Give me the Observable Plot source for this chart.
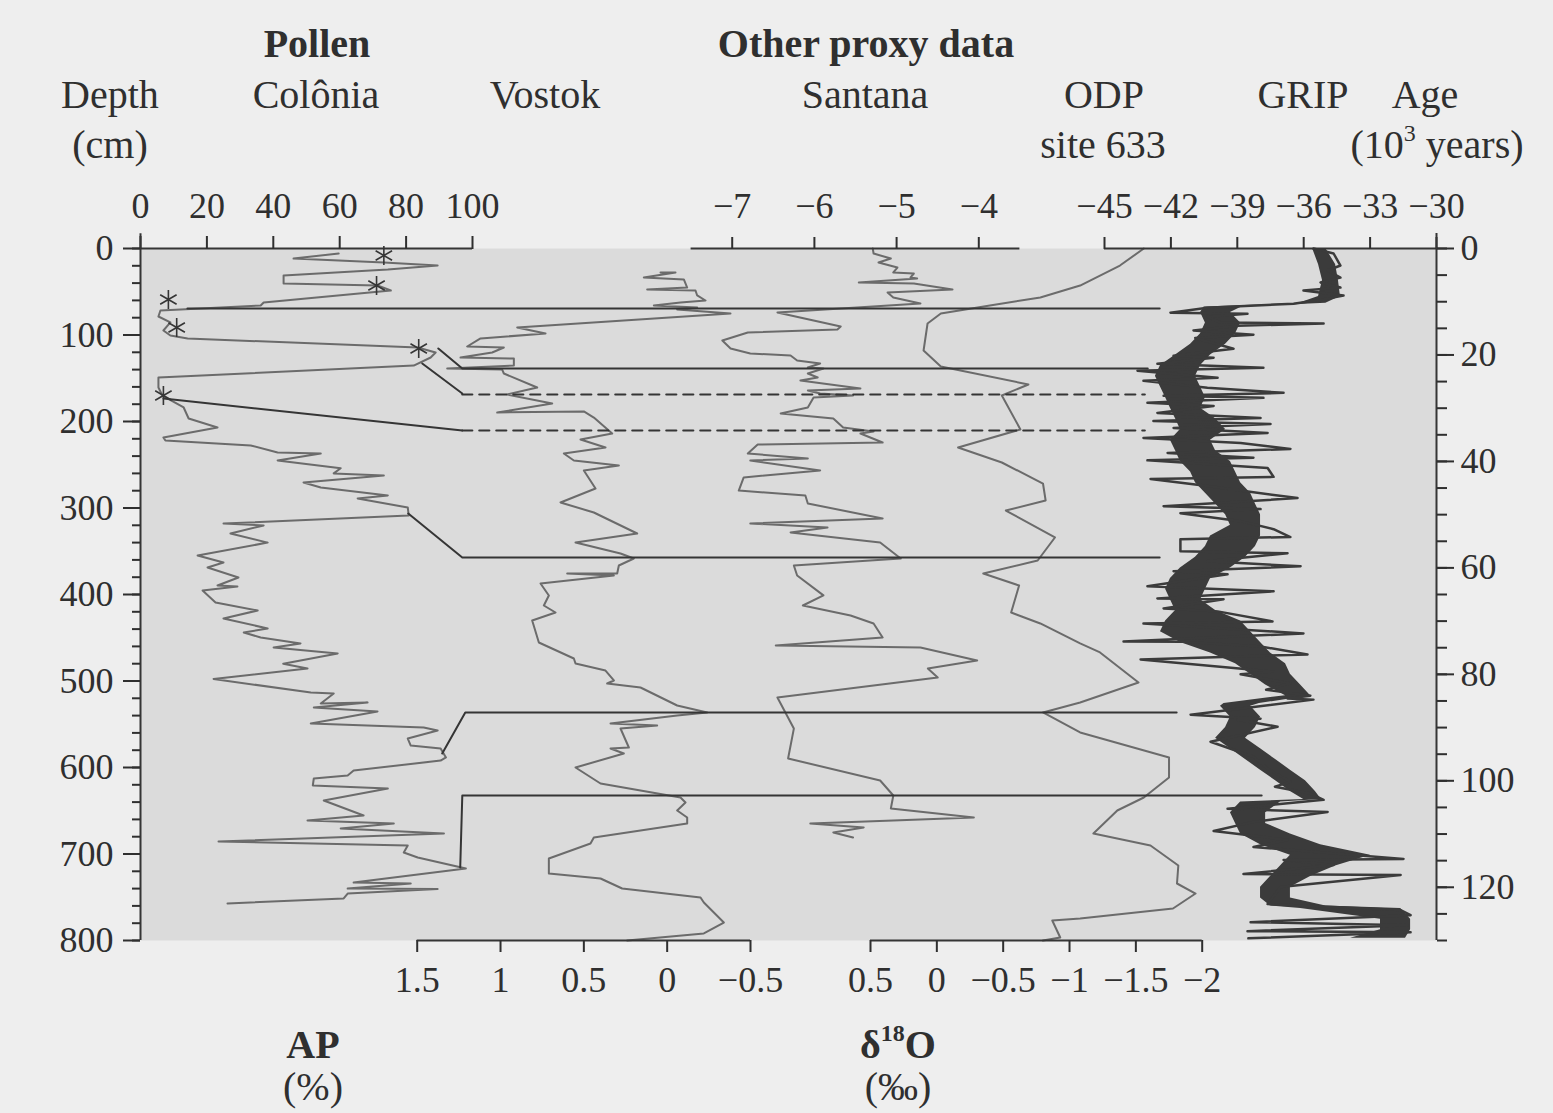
<!DOCTYPE html>
<html><head><meta charset="utf-8">
<script src="https://cdn.jsdelivr.net/npm/d3@7"></script>
<script src="https://cdn.jsdelivr.net/npm/@observablehq/plot@0.6"></script>
<style>
body{margin:0;background:#eeeeee;}
#chart{position:relative;width:1553px;height:1113px;font-family:"Liberation Serif",serif;color:#2f2f2f;}
#chart svg{position:absolute;left:0;top:0;}
.lbl{position:absolute;white-space:nowrap;transform:translateX(-50%);line-height:1;font-size:40px;}
.b{font-weight:bold;}
.lbl sup{font-size:60%;line-height:0;vertical-align:0.72em;}
</style></head><body><div id="chart"></div>
<script>
// ---------------- DATA ----------------
// Pollen, Colônia: [depth cm, arboreal pollen %]
const pollenAP = [[5.8,59.7],[11.6,46.1],[16.2,73.3],[19.7,89.5],[24.3,74.5],[31.2,43.1],[40.5,43.1],[42.8,71.4],[48.6,75.4],[62.4,37.1],[65.9,36.2],[71.7,6.0],[78.6,5.4],[85.5,9.0],[94.8,6.9],[100.6,9.0],[104,14.2],[114.5,83.5],[120.2,88.9],[126,87.4],[135.3,82.3],[149.1,5.4],[160.7,5.4],[170,6.6],[173.4,8.1],[183.8,13],[196.5,14.5],[207,23.2],[218.5,6.9],[222,7.5],[227.7,33.2],[235.8,41.3],[237,54.3],[245,41.3],[254,60.3],[260,58.2],[262.4,73.3],[270.5,49.1],[276.3,54.3],[285.5,74.5],[289,65.4],[299.4,80.5],[308.7,80.8],[318,25],[320.2,37.1],[329.5,27.1],[340,38.3],[355,17.2],[363,25],[368.8,20.2],[380.3,29.5],[389.6,23.2],[390.8,29.2],[395.4,18.7],[409.2,22.6],[418.5,35.3],[427.7,25],[439.3,38.3],[444,31.1],[449.7,36.2],[456.6,48.2],[461.3,40.1],[468.2,59.4],[476.3,48.2],[480,43],[485.5,50.3],[497.7,22],[513.3,51.3],[514.5,58.2],[526,54.3],[524.9,68.4],[530.6,52.2],[535.3,71.4],[549.1,51.3],[553.8,85.3],[557.2,89.5],[566.5,80.5],[574.6,81.4],[578,90.4],[588.4,92],[592,90.4],[603.5,64.2],[609.2,62.4],[612.7,52.2],[620.8,51.9],[624.3,74.5],[638.2,55.2],[655.5,67.2],[661.3,50.3],[664.7,76.3],[670.5,60.3],[676.3,91.4],[685.5,23.5],[690.2,80.5],[698.3,79.3],[704,83.5],[716.8,98],[733,64.2],[734.1,81.4],[740,62.4],[740.5,89.5],[745.7,62.4],[751.4,61.2],[757.2,26.2]];
// dated levels (asterisks): [depth, AP %]
const pollenDates = [[8.1,73.3],[42.8,71.1],[59,8.4],[91.3,10.9],[115.6,83.8],[170,6.9]];
// Vostok: [depth-equivalent cm, delta18O]
const vostok = [[27.7,0.04],[27.7,-0.05],[33.5,0.14],[35.8,-0.10],[45.1,-0.12],[47.4,0.12],[48.6,-0.17],[54.3,-0.18],[60.1,-0.23],[62.4,-0.08],[65.9,0.08],[68.2,-0.18],[70.5,-0.06],[75.1,-0.38],[91.3,0.90],[98.3,0.73],[104,1.12],[113.3,1.20],[114.5,0.98],[120.2,1.05],[126,1.24],[127.2,0.92],[135.3,0.92],[138.7,1.32],[139.9,0.99],[144.5,0.98],[160.7,0.78],[168.8,0.96],[179.2,0.69],[189.6,1.02],[188.4,0.50],[195.4,0.44],[213.9,0.33],[220.8,0.52],[230.1,0.37],[237,0.62],[245.1,0.56],[250.9,0.29],[256.6,0.50],[277.5,0.43],[293.6,0.64],[305.2,0.44],[329.5,0.18],[339.9,0.55],[352.6,0.28],[358.4,0.20],[366.5,0.29],[375.7,0.30],[375.7,0.60],[378,0.32],[387.3,0.76],[401.2,0.71],[412.7,0.74],[420.8,0.67],[430,0.81],[455.5,0.77],[474,0.56],[479.8,0.55],[487.9,0.37],[499.4,0.32],[502.9,0.36],[507.5,0.16],[528.3,-0.06],[536.4,-0.24],[539.9,-0.06],[549.1,0.34],[551.4,0.06],[554.9,0.28],[576.9,0.23],[578,0.34],[583.8,0.26],[600,0.55],[618.5,0.40],[634.7,-0.08],[640.5,-0.11],[649.7,-0.06],[657.8,-0.12],[664.7,-0.12],[680.9,0.44],[687.9,0.46],[705.2,0.71],[722.5,0.71],[728.3,0.40],[739.9,0.27],[750.3,-0.20],[756.1,-0.22],[779.2,-0.34],[791.9,-0.22],[800,0.24]];
// Santana: [depth-equivalent cm, delta18O]
const santana = [[0,-5.29],[5.8,-5.28],[11.6,-5.07],[16.2,-5.22],[22,-4.99],[27.7,-5.04],[28.9,-4.79],[33.5,-4.83],[34.7,-4.75],[39.3,-5.46],[40.5,-4.79],[47.4,-4.32],[50.9,-5.11],[56.6,-5.04],[63.6,-4.71],[74,-6.45],[83.2,-6.01],[90.2,-5.68],[93.6,-5.72],[97.1,-6.81],[106.4,-7.12],[115.6,-7.02],[121.4,-6.78],[123.7,-6.29],[129.5,-6.21],[132.9,-5.93],[137.6,-6.08],[138.7,-5.89],[144.5,-6.08],[149.1,-5.96],[152.6,-6.17],[161.8,-5.44],[164.2,-6.08],[167.6,-5.93],[169.9,-5.53],[172.3,-6.01],[183.8,-6.08],[190.8,-6.41],[196.5,-5.77],[206.9,-5.65],[211.6,-5.28],[213.9,-5.44],[224.3,-5.17],[226.6,-6.69],[237,-6.81],[242.8,-6.08],[245.1,-6.78],[256.6,-5.93],[264.7,-6.86],[279.8,-6.92],[285.5,-6.11],[294.8,-6.08],[312.1,-5.17],[317.9,-6.78],[322.5,-5.84],[328.3,-6.29],[339.9,-5.20],[358.4,-4.95],[366.5,-6.25],[378,-6.21],[401,-5.89],[412.7,-6.14],[424.3,-5.56],[433.5,-5.28],[449.7,-5.17],[459,-6.47],[461.3,-4.71],[476.3,-4.02],[485.5,-4.62],[496,-4.50],[519,-6.45],[555,-6.25],[589.6,-6.32],[615,-5.20],[632.4,-5.04],[647.4,-5.07],[657.8,-4.06],[661.3,-5.04],[664.7,-6.05],[669.4,-5.40],[675.1,-5.77],[680.9,-5.53]];
// ODP site 633: [depth-equivalent cm, delta18O]
const odp633 = [[0,-1.56],[19.7,-1.38],[42.8,-1.08],[56.6,-0.78],[65.9,-0.40],[75.1,-0.03],[86.7,0.07],[117.9,0.10],[136.4,-0.03],[157.2,-0.69],[169.9,-0.49],[209.2,-0.63],[230,-0.16],[247.4,-0.49],[271.7,-0.80],[291.3,-0.82],[302.9,-0.52],[334.1,-0.89],[360.7,-0.76],[375.7,-0.35],[389.6,-0.62],[420.8,-0.56],[433.5,-0.78],[456.6,-1.08],[467,-1.23],[501.7,-1.52],[524.9,-1.08],[536.4,-0.80],[559.5,-1.08],[588.4,-1.75],[611.6,-1.75],[634.7,-1.56],[649.7,-1.36],[676.3,-1.18],[690.2,-1.61],[713.3,-1.82],[734.1,-1.81],[745.7,-1.95],[763,-1.78],[774.6,-1.08],[776.9,-0.87],[796.5,-0.93],[800,-0.80]];
// GRIP: [age 10^3 yr, delta18O] spikes
const grip = [[0,-35.56],[0.94,-34.65],[3.2,-34.34],[4.14,-34.92],[5.46,-34.34],[6.4,-35.24],[7.34,-34.34],[7.91,-36.01],[8.85,-34.2],[9.42,-34.92],[10.36,-36.46],[11.11,-40.35],[12.05,-42.02],[12.24,-38.54],[12.81,-40.35],[13.9,-39.76],[14.1,-35.1],[14.5,-38.99],[15.4,-40.98],[16.2,-38.27],[16.8,-40.9],[18.83,-39.17],[20.15,-41.88],[20.53,-40.07],[21.66,-42.61],[22.41,-37.82],[22.98,-43.51],[24.29,-39.89],[24.86,-43.24],[26.18,-40.35],[27.12,-36.91],[27.68,-42.33],[28.06,-37.82],[29,-43.06],[29.57,-40.07],[30.89,-42.61],[31.83,-37.95],[32.39,-42.79],[32.96,-37.5],[33.71,-41.88],[34.65,-37.63],[35.59,-43.24],[36.53,-38.85],[37.66,-36.6],[38.42,-42.15],[39.3,-38.27],[39.8,-43.06],[41.24,-37.63],[42.9,-37.36],[43.3,-42.92],[44.63,-40.35],[46.89,-36.28],[48.4,-42.33],[48.96,-37.95],[49.72,-41.57],[51.22,-38.85],[52.73,-37.36],[54.2,-36.6],[54.6,-41.57],[56.87,-41.57],[57.25,-36.73],[58.76,-40.35],[59.7,-36.14],[60.64,-41.88],[61.21,-39.44],[63.47,-43.06],[64.41,-37.36],[65.73,-42.61],[65.9,-39.62],[67.61,-42.33],[68.17,-39.89],[70.06,-37.41],[70.43,-43.24],[72.32,-36.01],[73.82,-44.14],[73.9,-41.43],[74.76,-37.95],[76.27,-35.83],[77.21,-43.37],[79.47,-37.36],[80,-38.85],[81.7,-36.6],[82.9,-37.7],[84,-35.7],[84.56,-36.73],[84.75,-35.56],[87.57,-41.11],[88.32,-37.95],[88.51,-38.99],[89.83,-37.18],[92.66,-40.21],[95.48,-38.27],[97.74,-37.63],[100.2,-36.6],[101.1,-37.3],[102.4,-35.7],[103.58,-35.1],[105.27,-39.44],[105.84,-34.92],[107.72,-38.27],[109.42,-40.07],[111.11,-36.73],[112.43,-38.27],[114.69,-31.49],[114.88,-36.91],[115.82,-34.65],[117.51,-38.72],[117.7,-31.62],[119.96,-37.05],[123.16,-37.63],[124.29,-31.62],[125.24,-31.17],[126.55,-38.4],[127.12,-31.31],[128.25,-38.54],[128.44,-31.17],[129.6,-38.5]];
// GRIP dense core of the record: [age, low, high]
const gripCore = [[0,-35.6,-35.0],[3,-35.33,-34.56],[6,-35.15,-34.43],[9,-35.33,-34.34],[10.3,-36.2,-35.0],[11,-40.5,-38.8],[12,-40.66,-39.31],[14,-40.44,-38.85],[16,-40.66,-39.08],[18,-41.11,-39.53],[20,-41.79,-40.21],[22,-42.47,-40.66],[24,-42.7,-40.89],[26,-42.47,-40.66],[28,-42.24,-40.44],[30,-42.02,-40.66],[32,-41.79,-39.98],[34,-41.57,-39.53],[36,-42.02,-40.21],[38,-41.79,-39.98],[40,-41.57,-39.31],[42,-41.11,-39.08],[44,-40.89,-38.85],[46,-40.44,-38.4],[48,-39.98,-38.18],[50,-39.53,-37.95],[52,-39.31,-37.95],[54,-40.21,-37.95],[56,-40.44,-38.18],[58,-40.89,-38.63],[60,-41.57,-39.31],[62,-42.02,-40.21],[64,-42.24,-40.44],[66,-42.02,-40.66],[68,-41.79,-39.98],[70,-42.24,-38.85],[72,-42.47,-38.4],[74,-41.57,-37.95],[76,-40.21,-37.5],[78,-39.08,-36.82],[80,-38.4,-36.6],[82,-37.72,-36.14],[84,-36.82,-35.69],[85.5,-39.6,-38.0],[86,-39.76,-38.4],[88,-39.31,-37.95],[90,-39.53,-38.18],[92,-39.98,-38.63],[94,-39.31,-37.95],[96,-38.63,-37.27],[98,-37.95,-36.6],[100,-37.27,-35.92],[102,-36.6,-35.47],[103.5,-36.0,-35.2],[104,-38.85,-37.05],[106,-39.31,-37.72],[108,-39.08,-37.72],[110,-38.85,-36.6],[112,-37.95,-35.24],[114,-36.6,-32.98],[116,-37.05,-34.56],[118,-37.5,-35.69],[120,-37.95,-36.6],[122,-37.95,-36.6],[123.5,-37.5,-35.0],[124,-36.14,-31.62],[126,-32.53,-31.17],[128,-32.53,-31.17],[129.6,-33.88,-31.4]];
// correlation (tie) lines: [% of panel width, depth cm]
const tieSolid = [[[3.62,69.4],[78.64,69.4]],[[22.98,115.6],[24.83,138.7],[77.72,138.7]],[[21.74,132.9],[24.83,167.6]],[[1.77,173.4],[24.83,210.4]],[[20.66,306.4],[24.83,357.2],[78.64,357.2]],[[23.28,583.8],[25.06,536.4],[79.95,536.4]],[[24.67,715.6],[24.83,632.4],[86.51,632.4]]];
const tieDashed = [[[24.83,168.8],[77.49,168.8]],[[24.83,210.4],[77.49,210.4]]];
// tick values
const depthTicks = d3.range(0, 801, 100);
const depthMinor = d3.range(0, 801, 20);
const ageTicks = d3.range(0, 121, 20);
const ageMinor = d3.range(0, 131, 5);
const apTicks = [0, 20, 40, 60, 80, 100];
const vostokTicks = [1.5, 1, 0.5, 0, -0.5];
const santanaTicks = [-7, -6, -5, -4];
const odpTicks = [0.5, 0, -0.5, -1, -1.5, -2];
const gripTicks = [-45, -42, -39, -36, -33, -30];

// ---------------- DRAW ----------------
const W = 1553, H = 1113, TOP = 248, BOTTOM = 940;
const fmt = d => (d < 0 ? "\u2212" : "") + Math.abs(d);
const CURVE = "#6b6b6b", DARK = "#353535", GRIPC = "#3b3b3b";
function layer(xDomain, left, right, yDomain, marks) {
  return Plot.plot({
    width: W, height: H,
    marginLeft: left, marginRight: W - right, marginTop: TOP, marginBottom: H - BOTTOM,
    x: {domain: xDomain, axis: null},
    y: {domain: yDomain, reverse: true, axis: null},
    style: {background: "transparent", fontFamily: "Liberation Serif, serif", fontSize: "36px", color: "#2f2f2f", overflow: "visible"},
    marks
  });
}
const gx = d => d[1], gy = d => d[0];
const flat = segs => segs.flatMap((s, i) => s.map(p => ({f: p[0], d: p[1], i})));

const chart = document.getElementById("chart");
// panel background
chart.appendChild(layer([0, 100], 140, 1436, [0, 800], [Plot.frame({fill: "#dbdbdb", stroke: "none"})]));
// pollen
chart.appendChild(layer([0, 100], 140, 472, [0, 800], [
  Plot.line(pollenAP, {x: gx, y: gy, stroke: CURVE, strokeWidth: 2}),
  Plot.dot(pollenDates, {x: gx, y: gy, symbol: "asterisk", r: 9, stroke: DARK, strokeWidth: 1.6}),
  Plot.ruleY([0], {x1: 0, x2: 100, stroke: DARK, strokeWidth: 2}),
  Plot.axisX({anchor: "top", ticks: apTicks, tickSize: 13, tickPadding: 18, strokeWidth: 2, tickFormat: fmt}),
  Plot.ruleX([0], {y1: -17, y2: 800, stroke: DARK, strokeWidth: 2}),
  Plot.axisY({anchor: "left", ticks: depthTicks, tickSize: 17, tickPadding: 10, strokeWidth: 2, tickFormat: fmt}),
  Plot.axisY({anchor: "left", ticks: depthMinor, tickSize: 8, strokeWidth: 2, tickFormat: () => ""})
]));
// Vostok
chart.appendChild(layer([1.5, -0.5], 416.7, 750, [0, 800], [
  Plot.line(vostok, {x: gx, y: gy, stroke: CURVE, strokeWidth: 2}),
  Plot.ruleY([800], {x1: 1.5, x2: -0.5, stroke: DARK, strokeWidth: 2}),
  Plot.axisX({anchor: "bottom", ticks: vostokTicks, tickSize: 12, tickPadding: 14, strokeWidth: 2, tickFormat: fmt})
]));
// Santana
chart.appendChild(layer([-7, -4], 731.7, 978.3, [0, 800], [
  Plot.line(santana, {x: gx, y: gy, stroke: CURVE, strokeWidth: 2}),
  Plot.ruleY([0], {x1: -7.5, x2: -3.5, stroke: DARK, strokeWidth: 2}),
  Plot.axisX({anchor: "top", ticks: santanaTicks, tickSize: 12, tickPadding: 19, strokeWidth: 2, tickFormat: fmt})
]));
// ODP 633
chart.appendChild(layer([0.5, -2], 870, 1201.7, [0, 800], [
  Plot.line(odp633, {x: gx, y: gy, stroke: CURVE, strokeWidth: 2}),
  Plot.ruleY([800], {x1: 0.5, x2: -2, stroke: DARK, strokeWidth: 2}),
  Plot.axisX({anchor: "bottom", ticks: odpTicks, tickSize: 12, tickPadding: 14, strokeWidth: 2, tickFormat: fmt})
]));
// GRIP + age axis
chart.appendChild(layer([-45, -30], 1104, 1436, [0, 130], [
  Plot.areaX(gripCore, {y: d => d[0], x1: d => d[1], x2: d => d[2], fill: GRIPC}),
  Plot.line(grip, {x: gx, y: gy, stroke: GRIPC, strokeWidth: 2.5}),
  Plot.ruleY([0], {x1: -45, x2: -30, stroke: DARK, strokeWidth: 2}),
  Plot.axisX({anchor: "top", ticks: gripTicks, tickSize: 12, tickPadding: 19, strokeWidth: 2, tickFormat: fmt}),
  Plot.ruleX([-30], {y1: -2.8, y2: 130, stroke: DARK, strokeWidth: 2}),
  Plot.axisY({anchor: "right", ticks: ageTicks, tickSize: 17, tickPadding: 7, strokeWidth: 2, tickFormat: fmt}),
  Plot.axisY({anchor: "right", ticks: ageMinor, tickSize: 10, strokeWidth: 2, tickFormat: () => ""})
]));
// tie lines
chart.appendChild(layer([0, 100], 140, 1436, [0, 800], [
  Plot.line(flat(tieSolid), {x: "f", y: "d", z: "i", stroke: DARK, strokeWidth: 2}),
  Plot.line(flat(tieDashed), {x: "f", y: "d", z: "i", stroke: DARK, strokeWidth: 2.2, strokeDasharray: "10,7"})
]));

// ---------------- TEXT ----------------
const labels = [
  ["Pollen", 317, 57, true], ["Other proxy data", 866, 57, true],
  ["Depth", 110, 108], ["(cm)", 110, 158], ["Colônia", 316, 108], ["Vostok", 545, 108],
  ["Santana", 865, 108], ["ODP", 1104, 108], ["site 633", 1103, 158], ["GRIP", 1303, 108],
  ["Age", 1425, 108], ["(10<sup>3</sup> years)", 1437, 158],
  ["AP", 313, 1058, true], ["(%)", 313, 1100], ["δ<sup>18</sup>O", 898, 1058, true], ["(‰)", 898, 1100]
];
for (const [t, cx, base, bold] of labels) {
  const el = document.createElement("div");
  el.className = "lbl" + (bold ? " b" : "");
  el.innerHTML = t;
  el.style.left = cx + "px";
  el.style.top = (base - 0.8375 * 40) + "px";
  chart.appendChild(el);
}
</script></body></html>
